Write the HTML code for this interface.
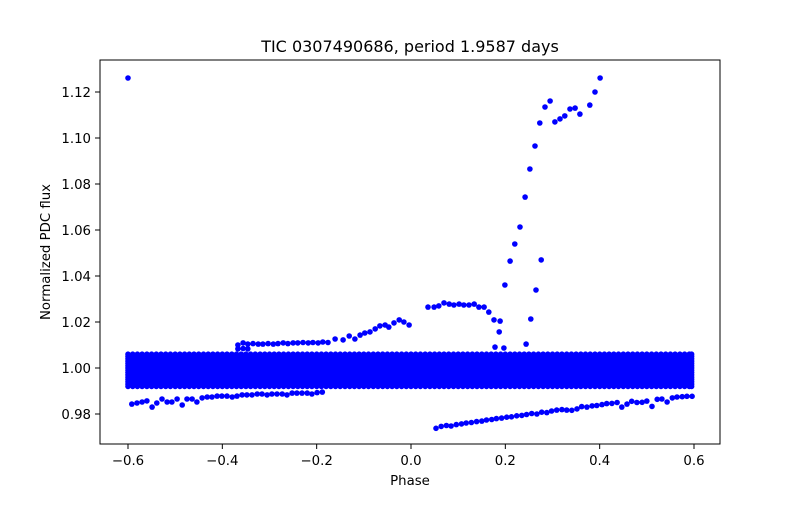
<!DOCTYPE html>
<html><head><meta charset="utf-8"><style>
html,body{margin:0;padding:0;background:#fff;}
svg text{font-family:"DejaVu Sans","Liberation Sans",sans-serif;fill:#000;}
</style></head><body>
<svg id="chart" width="800" height="500" viewBox="0 0 800 500" xmlns="http://www.w3.org/2000/svg">
<rect width="800" height="500" fill="#fff"/>
<text x="410" y="52" font-size="16" text-anchor="middle">TIC 0307490686, period 1.9587 days</text>
<g id="marks"></g>
<g id="axes"></g>
<rect x="100" y="60" width="620" height="384" fill="none" stroke="#000" stroke-width="1"/>
<text x="410" y="485" font-size="13.3" text-anchor="middle">Phase</text>
<text x="0" y="0" font-size="13.3" text-anchor="middle" transform="translate(50,252) rotate(-90)">Normalized PDC flux</text>
</svg>
<script>
const xTicks = [-0.6,-0.4,-0.2,0.0,0.2,0.4,0.6];
const xTickLabels = ["\u22120.6","\u22120.4","\u22120.2","0.0","0.2","0.4","0.6"];
const yTicks = [0.98,1.00,1.02,1.04,1.06,1.08,1.10,1.12];
const yTickLabels = ["0.98","1.00","1.02","1.04","1.06","1.08","1.10","1.12"];

const bandPhase = [-0.6,-0.59,-0.58,-0.57,-0.56,-0.55,-0.54,-0.53,-0.52,-0.51,-0.5,-0.49,-0.48,-0.47,-0.46,-0.45,-0.44,-0.43,-0.42,-0.41,-0.4,-0.39,-0.38,-0.37,-0.36,-0.35,-0.34,-0.33,-0.32,-0.31,-0.3,-0.29,-0.28,-0.27,-0.26,-0.25,-0.24,-0.23,-0.22,-0.21,-0.2,-0.19,-0.18,-0.17,-0.16,-0.15,-0.14,-0.13,-0.12,-0.11,-0.1,-0.09,-0.08,-0.07,-0.06,-0.05,-0.04,-0.03,-0.02,-0.01,0.0,0.01,0.02,0.03,0.04,0.05,0.06,0.07,0.08,0.09,0.1,0.11,0.12,0.13,0.14,0.15,0.16,0.17,0.18,0.19,0.2,0.21,0.22,0.23,0.24,0.25,0.26,0.27,0.28,0.29,0.3,0.31,0.32,0.33,0.34,0.35,0.36,0.37,0.38,0.39,0.4,0.41,0.42,0.43,0.44,0.45,0.46,0.47,0.48,0.49,0.5,0.51,0.52,0.53,0.54,0.55,0.56,0.57,0.58,0.59,0.595];
const bandFlux = [0.992,0.993,0.994,0.995,0.996,0.997,0.998,0.999,1.0,1.001,1.002,1.003,1.004,1.005,1.006];

const outPhase = [-0.6,-0.592,-0.581,-0.570,-0.560,-0.549,-0.539,-0.528,-0.517,-0.507,-0.496,-0.485,-0.475,-0.464,-0.454,-0.443,-0.432,-0.422,-0.411,-0.401,-0.390,-0.379,-0.369,-0.358,-0.348,-0.337,-0.326,-0.316,-0.305,-0.295,-0.284,-0.273,-0.263,-0.252,-0.242,-0.231,-0.220,-0.210,-0.199,-0.188,
-0.367,-0.356,-0.346,-0.335,-0.324,-0.314,-0.303,-0.292,-0.282,-0.271,-0.261,-0.250,-0.240,-0.229,-0.218,-0.208,-0.197,-0.187,-0.176,-0.367,-0.356,-0.346,
-0.161,-0.144,-0.131,-0.119,-0.108,-0.098,-0.087,-0.076,-0.066,-0.055,-0.047,-0.036,-0.025,-0.015,-0.004,
0.036,0.049,0.059,0.070,0.081,0.091,0.102,0.112,0.123,0.134,0.144,0.155,0.165,0.176,0.189,0.187,0.178,0.197,0.244,0.254,0.265,0.276,
0.199,0.210,0.220,0.231,0.242,0.252,0.263,0.273,0.284,0.295,0.305,0.316,0.326,0.337,0.348,0.358,0.379,0.390,0.401,
0.053,0.064,0.075,0.085,0.096,0.107,0.117,0.128,0.139,0.150,0.160,0.171,0.181,0.192,0.203,0.213,0.224,0.235,0.245,0.256,0.267,0.277,0.288,0.298,0.309,0.320,0.330,0.341,0.352,0.362,0.373,0.384,0.394,0.405,0.415,0.426,0.437,0.447,0.458,0.468,0.479,0.490,0.500,0.511,0.522,0.532,0.543,0.554,0.564,0.575,0.585,0.596];
const outFlux = [1.1261,0.9843,0.9848,0.9852,0.9857,0.9830,0.9848,0.9865,0.9852,0.9852,0.9865,0.9839,0.9865,0.9865,0.9852,0.9870,0.9874,0.9874,0.9878,0.9878,0.9878,0.9874,0.9878,0.9883,0.9883,0.9883,0.9887,0.9887,0.9883,0.9887,0.9887,0.9887,0.9883,0.9891,0.9891,0.9891,0.9891,0.9887,0.9893,0.9895,
1.0100,1.0109,1.0104,1.0106,1.0104,1.0104,1.0106,1.0104,1.0106,1.0109,1.0106,1.0109,1.0109,1.0111,1.0109,1.0111,1.0109,1.0113,1.0111,1.0083,1.0085,1.0083,
1.0126,1.0122,1.0139,1.0126,1.0143,1.0152,1.0157,1.0170,1.0183,1.0187,1.0178,1.0196,1.0209,1.0200,1.0187,
1.0265,1.0265,1.0270,1.0283,1.0278,1.0274,1.0278,1.0274,1.0274,1.0278,1.0265,1.0265,1.0243,1.0209,1.0204,1.0157,1.0091,1.0087,1.0104,1.0213,1.0339,1.0470,
1.0361,1.0465,1.0539,1.0613,1.0743,1.0865,1.0965,1.1065,1.1135,1.1161,1.1070,1.1083,1.1096,1.1126,1.1130,1.1104,1.1143,1.1200,1.1261,
0.9738,0.9746,0.9750,0.9748,0.9754,0.9757,0.9761,0.9763,0.9767,0.9769,0.9774,0.9776,0.9780,0.9782,0.9786,0.9788,0.9792,0.9794,0.9798,0.9802,0.9800,0.9808,0.9806,0.9813,0.9817,0.9819,0.9817,0.9816,0.9822,0.9832,0.9830,0.9835,0.9837,0.9841,0.9845,0.9846,0.9850,0.9830,0.9843,0.9855,0.9850,0.9851,0.9856,0.9833,0.9864,0.9865,0.9852,0.9870,0.9874,0.9875,0.9877,0.9877];

const NS = "http://www.w3.org/2000/svg";
function xScale(p){ return 411 + p * 471.67; }
function yScale(f){ return 368 - (f - 1) * 2300; }

const marks = document.getElementById('marks');
function dot(p, f){
  const c = document.createElementNS(NS, 'circle');
  
  
  c.setAttribute('cx', xScale(p).toFixed(1));
  c.setAttribute('cy', yScale(f).toFixed(1));
  c.setAttribute('r', '2.8');
  c.setAttribute('fill', '#0000ff');
  marks.appendChild(c);
}
for (const f of bandFlux) for (const p of bandPhase) dot(p, f);
for (let i = 0; i < outPhase.length; i++) dot(outPhase[i], outFlux[i]);

const axes = document.getElementById('axes');
xTicks.forEach((t, i) => {
  const x = xScale(t);
  const l = document.createElementNS(NS, 'line');
  
  
  l.setAttribute('x1', x); l.setAttribute('x2', x);
  l.setAttribute('y1', 444); l.setAttribute('y2', 449);
  l.setAttribute('stroke', '#000');
  axes.appendChild(l);
  const tx = document.createElementNS(NS, 'text');
  
  
  tx.setAttribute('x', x); tx.setAttribute('y', 465);
  tx.setAttribute('font-size', '13.3');
  tx.setAttribute('text-anchor', 'middle');
  tx.textContent = xTickLabels[i];
  axes.appendChild(tx);
});
yTicks.forEach((t, i) => {
  const y = yScale(t);
  const l = document.createElementNS(NS, 'line');
  
  
  l.setAttribute('x1', 95); l.setAttribute('x2', 100);
  l.setAttribute('y1', y); l.setAttribute('y2', y);
  l.setAttribute('stroke', '#000');
  axes.appendChild(l);
  const tx = document.createElementNS(NS, 'text');
  
  
  tx.setAttribute('x', 91); tx.setAttribute('y', y + 5);
  tx.setAttribute('font-size', '13.3');
  tx.setAttribute('text-anchor', 'end');
  tx.textContent = yTickLabels[i];
  axes.appendChild(tx);
});
</script>
</body></html>
